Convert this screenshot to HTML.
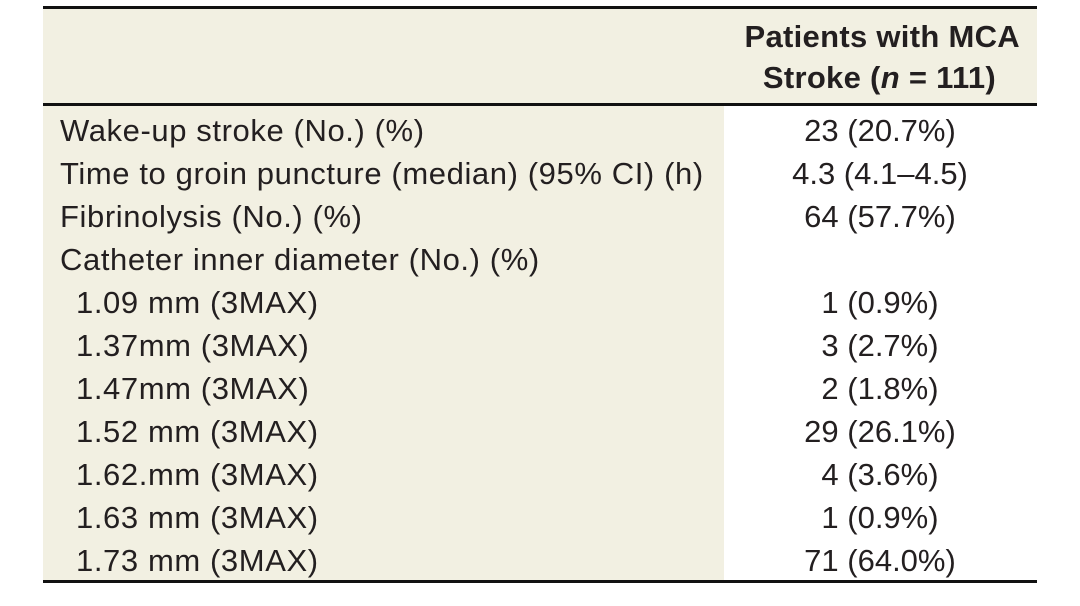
<!DOCTYPE html>
<html><head><style>
body{margin:0;width:1080px;height:606px;background:#fff;position:relative;font-family:"Liberation Sans",sans-serif;color:#231f20;overflow:hidden}
.bg{position:absolute;background:#f2f0e2}
.line{position:absolute;left:43px;width:994px;background:#111}
.t{position:absolute;font-size:31px;line-height:43px;white-space:nowrap;letter-spacing:0.6px}
.h{position:absolute;font-size:31px;font-weight:bold;white-space:nowrap;line-height:41px;letter-spacing:0.3px}
.v{position:absolute;left:728px;width:304px;text-align:center;font-size:31px;line-height:43px;white-space:nowrap;letter-spacing:0px}
</style></head><body>
<div class="bg" style="left:43px;top:9px;width:994px;height:95px"></div>
<div class="bg" style="left:43px;top:106px;width:681px;height:475px"></div>
<div class="line" style="top:6px;height:3px"></div>
<div class="line" style="top:103px;height:3px"></div>
<div class="line" style="top:580px;height:3px"></div>
<div class="h" style="right:60px;top:16px">Patients with MCA</div>
<div class="h" style="right:84px;top:57px">Stroke (<i>n</i> = 111)</div>
<div class="t" style="left:60px;top:109px">Wake-up stroke (No.) (%)</div>
<div class="t" style="left:60px;top:152px">Time to groin puncture (median) (95% CI) (h)</div>
<div class="t" style="left:60px;top:195px">Fibrinolysis (No.) (%)</div>
<div class="t" style="left:60px;top:238px">Catheter inner diameter (No.) (%)</div>
<div class="t" style="left:76px;top:281px">1.09 mm (3MAX)</div>
<div class="t" style="left:76px;top:324px">1.37mm (3MAX)</div>
<div class="t" style="left:76px;top:367px">1.47mm (3MAX)</div>
<div class="t" style="left:76px;top:410px">1.52 mm (3MAX)</div>
<div class="t" style="left:76px;top:453px">1.62.mm (3MAX)</div>
<div class="t" style="left:76px;top:496px">1.63 mm (3MAX)</div>
<div class="t" style="left:76px;top:539px">1.73 mm (3MAX)</div>
<div class="v" style="top:109px">23 (20.7%)</div>
<div class="v" style="top:152px">4.3 (4.1–4.5)</div>
<div class="v" style="top:195px">64 (57.7%)</div>
<div class="v" style="top:281px">1 (0.9%)</div>
<div class="v" style="top:324px">3 (2.7%)</div>
<div class="v" style="top:367px">2 (1.8%)</div>
<div class="v" style="top:410px">29 (26.1%)</div>
<div class="v" style="top:453px">4 (3.6%)</div>
<div class="v" style="top:496px">1 (0.9%)</div>
<div class="v" style="top:539px">71 (64.0%)</div>
</body></html>
